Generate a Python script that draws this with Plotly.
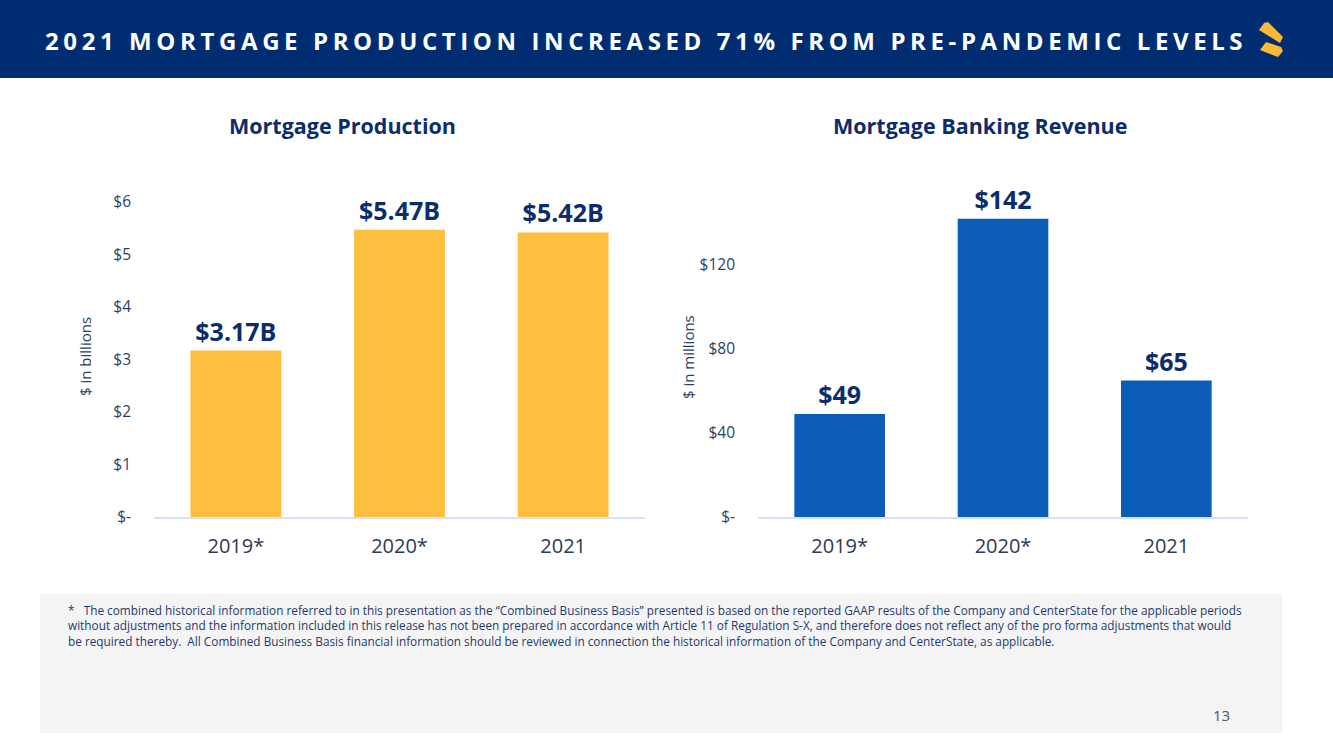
import plotly.graph_objects as go

W, H = 1333, 749

categories = ["2019*", "2020*", "2021"]
production_billions = [3.17, 5.47, 5.42]
production_labels = ["$3.17B", "$5.47B", "$5.42B"]
revenue_millions = [49, 142, 65]
revenue_labels = ["$49", "$142", "$65"]

left_ticks = [0, 1, 2, 3, 4, 5, 6]
left_ticktext = ["$-", "$1", "$2", "$3", "$4", "$5", "$6"]
right_ticks = [0, 40, 80, 120]
right_ticktext = ["$-", "$40", "$80", "$120"]

page_title = "2021 MORTGAGE PRODUCTION INCREASED 71% FROM PRE-PANDEMIC LEVELS"
left_title = "Mortgage Production"
right_title = "Mortgage Banking Revenue"
left_ytitle = "$ in billions"
right_ytitle = "$ in millions"
footnote = ("*   The combined historical information referred to in this presentation as the \u201cCombined Business Basis\u201d presented is based on the reported GAAP results of the Company and CenterState for the applicable periods<br>"
            "without adjustments and the information included in this release has not been prepared in accordance with Article 11 of Regulation S-X, and therefore does not reflect any of the pro forma adjustments that would<br>"
            "be required thereby.  All Combined Business Basis financial information should be reviewed in connection the historical information of the Company and CenterState, as applicable.")
page_number = "13"

NAVY = "#0B2D6B"
GOLD = "#FEBF3F"
BLUE = "#0B5DB7"
FONT = "Open Sans"


def px(x):
    return x / W


def py(y):
    return 1 - y / H


def poly(points):
    return "M " + " L ".join(f"{px(a)},{py(b)}" for a, b in points) + " Z"


fig = go.Figure()
fig.add_trace(go.Bar(
    x=categories, y=production_billions, text=production_labels,
    textposition="outside", cliponaxis=False, width=0.555,
    marker=dict(color=GOLD, line=dict(width=0)),
    textfont=dict(family=FONT, size=25, color=NAVY, weight="bold"),
    xaxis="x", yaxis="y", hoverinfo="skip"))
fig.add_trace(go.Bar(
    x=categories, y=revenue_millions, text=revenue_labels,
    textposition="outside", cliponaxis=False, width=0.555,
    marker=dict(color=BLUE, line=dict(width=0)),
    textfont=dict(family=FONT, size=25, color=NAVY, weight="bold"),
    xaxis="x2", yaxis="y2", hoverinfo="skip"))

ydom = [py(517), py(202)]
axis_common = dict(showgrid=False, zeroline=False, ticks="", automargin=False)
xtick = dict(size=20, color="#2E3A52")
ytick = dict(size=15.5, color="#2A3F66")
fig.update_layout(
    template="none",
    width=W, height=H, margin=dict(l=0, r=0, t=0, b=0, pad=0, autoexpand=False),
    paper_bgcolor="white", plot_bgcolor="white", showlegend=False,
    font=dict(family=FONT),
    xaxis=dict(type="category", domain=[px(154), px(645)], anchor="y", range=[-0.5, 2.5],
               showline=True, linecolor="#D5E2F2", linewidth=1.5,
               tickfont=xtick, ticklabelstandoff=10, **axis_common),
    yaxis=dict(domain=ydom, anchor="x", range=[0, 6], tickvals=left_ticks,
               ticktext=left_ticktext, showline=False,
               tickfont=ytick, ticklabelstandoff=22, **axis_common),
    xaxis2=dict(type="category", domain=[px(758), px(1248)], anchor="y2", range=[-0.5, 2.5],
                showline=True, linecolor="#D5E2F2", linewidth=1.5,
                tickfont=xtick, ticklabelstandoff=10, **axis_common),
    yaxis2=dict(domain=ydom, anchor="x2", range=[0, 150], tickvals=right_ticks,
                ticktext=right_ticktext, showline=False,
                tickfont=ytick, ticklabelstandoff=22, **axis_common),
)

LOGO = "#FDB935"
shapes = [
    dict(type="rect", xref="paper", yref="paper", x0=0, x1=1, y0=py(78), y1=1,
         fillcolor="#002D72", line=dict(width=0), layer="below"),
    dict(type="rect", xref="paper", yref="paper", x0=px(40), x1=px(1282),
         y0=py(733), y1=py(594), fillcolor="#F4F4F4", line=dict(width=0), layer="below"),
    # logo strokes
    dict(type="path", xref="paper", yref="paper",
         path=poly([(1259, 30), (1264, 23), (1268, 22), (1283, 37), (1280, 43)]),
         fillcolor=LOGO, line=dict(width=0)),
    dict(type="path", xref="paper", yref="paper",
         path=poly([(1260, 50), (1266, 42), (1281, 47), (1283, 51), (1278, 57)]),
         fillcolor=LOGO, line=dict(width=0)),
]

annotations = [
    dict(text=f'<span style="letter-spacing:4.6px">{page_title}</span>', x=px(646), y=py(41),
         xref="paper", yref="paper", showarrow=False, xanchor="center", yanchor="middle",
         font=dict(family=FONT, size=24, color="white", weight="bold")),
    dict(text=f"<b>{left_title}</b>", x=px(342), y=py(125), xref="paper", yref="paper",
         showarrow=False, xanchor="center", yanchor="middle",
         font=dict(family=FONT, size=21.5, color=NAVY)),
    dict(text=f"<b>{right_title}</b>", x=px(980), y=py(125), xref="paper", yref="paper",
         showarrow=False, xanchor="center", yanchor="middle",
         font=dict(family=FONT, size=21.5, color=NAVY)),
    dict(text=left_ytitle, x=px(85), y=py(357), xref="paper", yref="paper",
         showarrow=False, xanchor="center", yanchor="middle", textangle=-90,
         font=dict(family=FONT, size=15, color="#2A3F66")),
    dict(text=right_ytitle, x=px(688), y=py(357), xref="paper", yref="paper",
         showarrow=False, xanchor="center", yanchor="middle", textangle=-90,
         font=dict(family=FONT, size=15, color="#2A3F66")),
    dict(text=footnote, x=px(66), y=py(600), xref="paper", yref="paper",
         showarrow=False, xanchor="left", yanchor="top", align="left",
         font=dict(family=FONT, size=11.8, color="#1F3A6E")),
    dict(text=page_number, x=px(1221), y=py(715), xref="paper", yref="paper",
         showarrow=False, xanchor="center", yanchor="middle",
         font=dict(family=FONT, size=15, color="#44546A")),
]

fig.update_layout(shapes=shapes, annotations=annotations)
fig.write_html(
    "out.html",
    config={"displayModeBar": False},
    post_script=("document.documentElement.style.margin='0';"
                 "document.body.style.margin='0';document.body.style.overflow='hidden';"
                 "var d=document.getElementById('{plot_id}');"
                 "d.style.position='fixed';d.style.top='0px';d.style.left='0px';"),
)
